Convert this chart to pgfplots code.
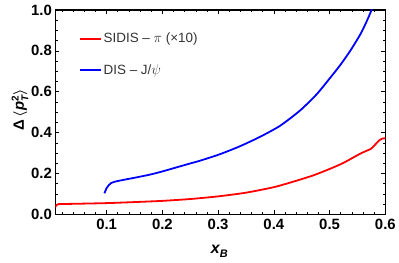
\documentclass[border=0pt]{standalone}
\usepackage{amsmath}
\usepackage{pgfplots}
\pgfplotsset{compat=1.18}
\usepackage{fontspec}
\setmainfont{Liberation Sans}
\begin{document}
\begin{tikzpicture}
\begin{axis}[
  at={(0,0)}, anchor=south west,
  scale only axis, width=331bp, height=205bp,
  xmin=0.008, xmax=0.6, ymin=0, ymax=1,
  xtick={0.1,0.2,0.3,0.4,0.5,0.6},
  minor xtick={0.02,0.04,0.06,0.08,0.12,0.14,0.16,0.18,0.22,0.24,0.26,0.28,0.32,0.34,0.36,0.38,0.42,0.44,0.46,0.48,0.52,0.54,0.56,0.58},
  ytick={0,0.2,0.4,0.6,0.8,1.0},
  minor ytick={0.05,0.1,0.15,0.25,0.3,0.35,0.45,0.5,0.55,0.65,0.7,0.75,0.85,0.9,0.95},
  tick align=inside,
  major tick length=4bp, minor tick length=2.2bp,
  tick style={black, line width=0.6bp},
  axis line style={black, line width=1.2bp},
  tick label style={font=\bfseries\fontsize{15}{15}\selectfont},
  /pgf/number format/assume math mode=true,
  yticklabel={\pgfmathprintnumber[fixed,fixed zerofill,precision=1]{\tick}},
  xticklabel={\pgfmathprintnumber[fixed,fixed zerofill,precision=1]{\tick}},
  xticklabel style={yshift=-1bp},
  ylabel={\fontsize{15}{15}\selectfont\bfseries Δ\,{\boldmath$\langle$}\textit{p}{\boldmath$^{\mbox{\fontsize{10}{10}\selectfont\bfseries 2}}_{\mbox{\fontsize{10}{10}\selectfont\bfseries\itshape T}}$}{\boldmath$\rangle$}},
  ylabel style={at={(axis description cs:-0.107,0.512)}, anchor=center},
  xlabel={\fontsize{16}{16}\selectfont\bfseries\itshape x\raisebox{-0.45ex}{\fontsize{11}{11}\selectfont B}},
  xlabel style={at={(axis description cs:0.497,-0.180)}, anchor=center},
  legend style={at={(axis description cs:0.0625,0.782)}, anchor=west, draw=none, fill=none,
    row sep=16bp, text=black!80},
  legend cell align=left,
  legend image post style={xscale=1.25, line width=1.4bp},
]
\addplot[red, line width=1.8bp, smooth, tension=0.4] coordinates {
(0.008,0.035) (0.010,0.046) (0.014,0.050) (0.03,0.051) (0.05,0.052) (0.1,0.055)
(0.15,0.060) (0.2,0.066) (0.25,0.075) (0.3,0.088) (0.35,0.106) (0.4,0.133)
(0.435,0.160) (0.47,0.190) (0.5,0.222) (0.525,0.252) (0.555,0.297) (0.568,0.313)
(0.575,0.322) (0.582,0.342) (0.590,0.364) (0.595,0.371) (0.6,0.372)
};
\addlegendentry{\fontsize{13.5}{15}\selectfont SIDIS – $\pi$ (×10)}
\addplot[blue, line width=1.8bp, smooth, tension=0.4] coordinates {
(0.096,0.103) (0.100,0.128) (0.104,0.143) (0.108,0.153) (0.115,0.160) (0.129,0.168)
(0.15,0.179) (0.177,0.194) (0.2,0.210) (0.246,0.246) (0.267,0.262) (0.303,0.294)
(0.339,0.333) (0.375,0.379) (0.411,0.433) (0.447,0.508) (0.477,0.588) (0.501,0.668)
(0.519,0.730) (0.537,0.800) (0.555,0.880) (0.565,0.935) (0.573,0.985) (0.58,1.035)
};
\addlegendentry{\fontsize{13.5}{15}\selectfont DIS – J/$\psi$}
\end{axis}
\path[use as bounding box] (-55.5bp,-48bp) rectangle (343.5bp,215bp);
\end{tikzpicture}
\end{document}
